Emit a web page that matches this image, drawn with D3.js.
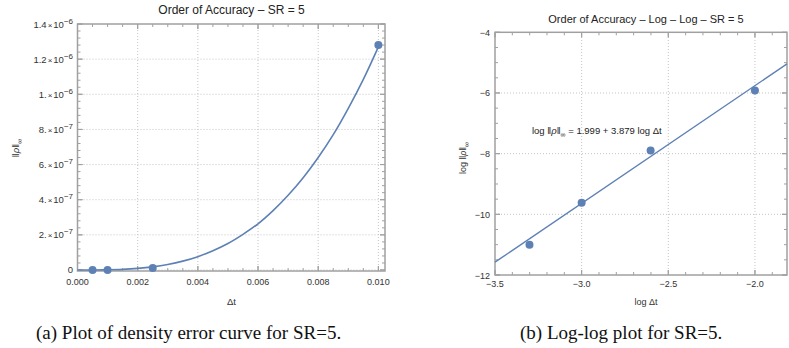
<!DOCTYPE html>
<html>
<head>
<meta charset="utf-8">
<script src="https://cdn.jsdelivr.net/npm/d3@7"></script>
<style>
body { margin: 0; background: #fff; }
svg { display: block; font-family: "Liberation Sans", Arial, sans-serif; }
</style>
</head>
<body>
<svg width="789" height="348"></svg>
<script>
// (a) error vs time step
const dtValues = [0.0005, 0.001, 0.0025, 0.01];
const errValues = [1.0e-11, 2.4e-10, 1.1e-8, 1.28e-6];

// fitted curve
const curveDt = [0, 0.0005, 0.001, 0.0015, 0.002, 0.0025, 0.003, 0.0035, 0.004, 0.0045, 0.005,
    0.0055, 0.006, 0.0065, 0.007, 0.0075, 0.008, 0.0085, 0.009, 0.0095, 0.01];
const curveErr = [0, 1e-10, 1.1e-9, 3.7e-9, 9.1e-9, 1.8e-8, 3.15e-8, 5.05e-8, 7.6e-8, 1.1e-7, 1.51e-7,
    2.03e-7, 2.63e-7, 3.38e-7, 4.25e-7, 5.25e-7, 6.4e-7, 7.7e-7, 9.2e-7, 1.085e-6, 1.27e-6];

const leftXTicks = [0, 0.002, 0.004, 0.006, 0.008, 0.010];
const leftXMinor = d3.range(0, 0.01025, 0.0005);
const leftYTicks = [0, 2e-7, 4e-7, 6e-7, 8e-7, 1e-6, 1.2e-6, 1.4e-6];
const leftYTickLabels = [['0'], ['2.', '−7'], ['4.', '−7'], ['6.', '−7'], ['8.', '−7'],
    ['1.', '−6'], ['1.2', '−6'], ['1.4', '−6']];
const leftYMinor = d3.range(0, 1.41e-6, 4e-8);

// (b) log-log
const logDt = [-3.301, -3.0, -2.602, -2.0];
const logErr = [-11.0, -9.62, -7.9, -5.92];
const fitIntercept = 1.999;
const fitSlope = 3.879;

const rightXTicks = [-3.5, -3.0, -2.5, -2.0];
const rightXMinor = d3.range(-3.5, -1.8, 0.1);
const rightYTicks = [-12, -10, -8, -6, -4];
const rightYMinor = d3.range(-12, -3.9, 0.5);

const captions = ['(a) Plot of density error curve for SR=5.', '(b) Log-log plot for SR=5.'];

const svg = d3.select('svg');
const blue = '#5e81b5';
const frameColor = '#a0a0a0';
const textColor = '#333';

let xLeft = d3.scaleLinear().domain([0, 0.01022]).range([77.5, 385]);
let yLeft = d3.scaleLinear().domain([-0.0057e-6, 1.4e-6]).range([271, 24]);

let xRight = d3.scaleLinear().domain([-3.5, -1.815]).range([495, 787]);
let yRight = d3.scaleLinear().domain([-12, -4]).range([275, 32.3]);

function drawFrame(x, y, xMajor, xMinor, yMajor, yMinor) {
    let g = svg.append('g');
    let [x0, x1] = x.range();
    let [y0, y1] = y.range();

    // dotted grid
    g.selectAll('.gx')
        .data(xMajor.filter(d => Math.abs(x(d) - x0) > 1 && Math.abs(x(d) - x1) > 1))
        .enter()
        .append('line')
            .attr('x1', d => x(d)).attr('x2', d => x(d))
            .attr('y1', y0).attr('y2', y1)
            .attr('stroke', '#c4c4c4')
            .attr('stroke-dasharray', '1,2');

    g.selectAll('.gy')
        .data(yMajor.filter(d => Math.abs(y(d) - y0) > 1 && Math.abs(y(d) - y1) > 1))
        .enter()
        .append('line')
            .attr('y1', d => y(d)).attr('y2', d => y(d))
            .attr('x1', x0).attr('x2', x1)
            .attr('stroke', '#c4c4c4')
            .attr('stroke-dasharray', '1,2');

    // ticks on all four sides
    let isMajor = (list, v) => list.some(m => Math.abs(m - v) < Math.abs(v) * 1e-6 + 1e-12);
    let xt = xMinor.map(v => ({ v, len: isMajor(xMajor, v) ? 5 : 3 }))
        .concat(xMajor.map(v => ({ v, len: 5 })));
    let yt = yMinor.map(v => ({ v, len: isMajor(yMajor, v) ? 5 : 3 }))
        .concat(yMajor.map(v => ({ v, len: 5 })));

    [[y0, -1], [y1, 1]].forEach(([base, dir]) => {
        g.append('g').selectAll('line')
            .data(xt)
            .enter()
            .append('line')
                .attr('x1', d => x(d.v)).attr('x2', d => x(d.v))
                .attr('y1', base).attr('y2', d => base + dir * d.len)
                .attr('stroke', frameColor)
                .attr('stroke-width', 1);
    });
    [[x0, 1], [x1, -1]].forEach(([base, dir]) => {
        g.append('g').selectAll('line')
            .data(yt)
            .enter()
            .append('line')
                .attr('y1', d => y(d.v)).attr('y2', d => y(d.v))
                .attr('x1', base).attr('x2', d => base + dir * d.len)
                .attr('stroke', frameColor)
                .attr('stroke-width', 1);
    });

    g.append('rect')
        .attr('x', x0).attr('y', y1)
        .attr('width', x1 - x0).attr('height', y0 - y1)
        .attr('fill', 'none')
        .attr('stroke', frameColor)
        .attr('stroke-width', 1.5);
}

function normText(sel, size) {
    sel.append('tspan').text('‖');
    sel.append('tspan').attr('font-style', 'italic').text('ρ');
    sel.append('tspan').text('‖');
    sel.append('tspan').attr('font-size', size).attr('dy', 2.5).text('∞');
}

function renderLeft() {
    drawFrame(xLeft, yLeft, leftXTicks, leftXMinor, leftYTicks, leftYMinor);

    let line = d3.line()
        .x((d, i) => xLeft(curveDt[i]))
        .y(d => yLeft(d))
        .curve(d3.curveCatmullRom.alpha(0.5));

    svg.append('path')
        .attr('d', line(curveErr))
        .attr('fill', 'none')
        .attr('stroke', blue)
        .attr('stroke-width', 1.6);

    svg.append('g').selectAll('circle')
        .data(dtValues)
        .enter()
        .append('circle')
            .attr('cx', d => xLeft(d))
            .attr('cy', (d, i) => yLeft(errValues[i]))
            .attr('r', 4)
            .attr('fill', blue);

    svg.append('g').selectAll('text')
        .data(leftXTicks)
        .enter()
        .append('text')
            .attr('x', d => xLeft(d))
            .attr('y', 284.5)
            .attr('text-anchor', 'middle')
            .attr('font-size', '9px')
            .attr('fill', textColor)
            .text(d => d.toFixed(3));

    let yl = svg.append('g').selectAll('text')
        .data(leftYTicks)
        .enter()
        .append('text')
            .attr('x', 73)
            .attr('y', d => yLeft(d) + 3.5)
            .attr('text-anchor', 'end')
            .attr('font-size', '9.5px')
            .attr('fill', textColor);

    yl.each(function(d, i) {
        let parts = leftYTickLabels[i];
        let t = d3.select(this);
        t.append('tspan').text(parts[0]);
        if (parts.length > 1) {
            t.append('tspan').attr('font-size', '8px').attr('dx', 1).text('×');
            t.append('tspan').attr('dx', 1).text('10');
            t.append('tspan').attr('font-size', '8px').attr('dy', -4).text(parts[1]);
        }
    });

    svg.append('text')
        .attr('x', 231.5).attr('y', 14)
        .attr('text-anchor', 'middle')
        .attr('font-size', '12px')
        .attr('fill', '#222')
        .text('Order of Accuracy – SR = 5');

    svg.append('text')
        .attr('x', 231.5).attr('y', 304.5)
        .attr('text-anchor', 'middle')
        .attr('font-size', '9.5px')
        .attr('fill', textColor)
        .text('Δt');

    let ylab = svg.append('text')
        .attr('transform', 'translate(19,148) rotate(-90)')
        .attr('text-anchor', 'middle')
        .attr('font-size', '9.5px')
        .attr('fill', textColor);
    normText(ylab, '7px');
}

function renderRight() {
    drawFrame(xRight, yRight, rightXTicks, rightXMinor, rightYTicks, rightYMinor);

    let fitX = xRight.domain();
    let line = d3.line()
        .x(d => xRight(d))
        .y(d => yRight(fitIntercept + fitSlope * d));

    svg.append('path')
        .attr('d', line(fitX))
        .attr('fill', 'none')
        .attr('stroke', blue)
        .attr('stroke-width', 1.4);

    svg.append('g').selectAll('circle')
        .data(logDt)
        .enter()
        .append('circle')
            .attr('cx', d => xRight(d))
            .attr('cy', (d, i) => yRight(logErr[i]))
            .attr('r', 4)
            .attr('fill', blue);

    svg.append('g').selectAll('text')
        .data(rightXTicks)
        .enter()
        .append('text')
            .attr('x', d => xRight(d))
            .attr('y', 286.5)
            .attr('text-anchor', 'middle')
            .attr('font-size', '9px')
            .attr('fill', textColor)
            .text(d => '−' + Math.abs(d).toFixed(1));

    svg.append('g').selectAll('text')
        .data(rightYTicks)
        .enter()
        .append('text')
            .attr('x', 490)
            .attr('y', d => yRight(d) + 3.5)
            .attr('text-anchor', 'end')
            .attr('font-size', '9px')
            .attr('fill', textColor)
            .text(d => '−' + Math.abs(d));

    svg.append('text')
        .attr('x', 646).attr('y', 23)
        .attr('text-anchor', 'middle')
        .attr('font-size', '11px')
        .attr('fill', '#222')
        .text('Order of Accuracy – Log – Log – SR = 5');

    svg.append('text')
        .attr('x', 646).attr('y', 305)
        .attr('text-anchor', 'middle')
        .attr('font-size', '9px')
        .attr('fill', textColor)
        .text('log Δt');

    let ylab = svg.append('text')
        .attr('transform', 'translate(466,158) rotate(-90)')
        .attr('text-anchor', 'middle')
        .attr('font-size', '9px')
        .attr('fill', textColor);
    ylab.append('tspan').text('log ');
    normText(ylab, '7px');

    // fit equation
    let eq = svg.append('text')
        .attr('x', xRight(-3.287))
        .attr('y', yRight(-7.25) + 3.5)
        .attr('font-size', '9.5px')
        .attr('fill', '#222');
    eq.append('tspan').text('log ');
    normText(eq, '7px');
    eq.append('tspan').attr('dy', -2.5)
        .text(' = ' + fitIntercept.toFixed(3) + ' + ' + fitSlope.toFixed(3) + ' log Δt');
}

function renderCaptions() {
    svg.append('g').selectAll('text')
        .data(captions)
        .enter()
        .append('text')
            .attr('x', (d, i) => i === 0 ? 36 : 520)
            .attr('y', 339)
            .attr('font-family', '"Liberation Serif", "Times New Roman", serif')
            .attr('font-size', '19px')
            .attr('fill', '#111')
            .text(d => d);
}

renderLeft();
renderRight();
renderCaptions();
</script>
</body>
</html>
